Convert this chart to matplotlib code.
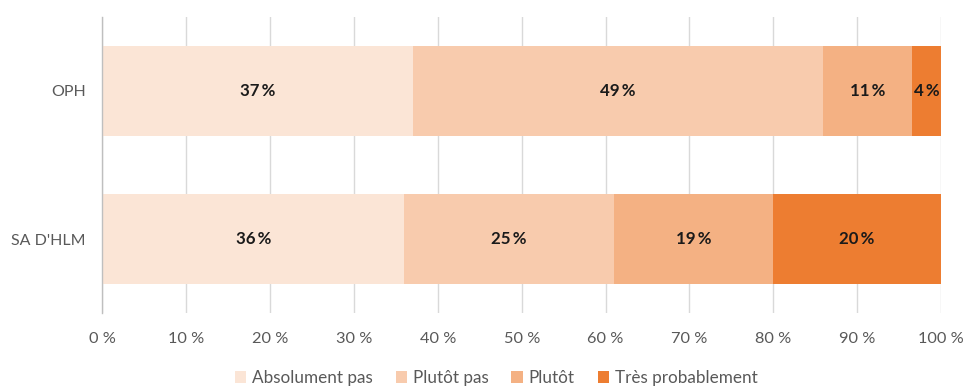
import matplotlib
matplotlib.use("Agg")
import matplotlib.pyplot as plt
import numpy as np

plt.rcParams['font.family'] = ['Lato', 'DejaVu Sans']

categories = ["SA D'HLM", "OPH"]
series_names = ["Absolument pas", "Plutôt pas", "Plutôt", "Très probablement"]
# shares per category (SA D'HLM, OPH), in percent
absolument_pas = [36.0, 37.0]
plutot_pas = [25.0, 48.9]
plutot = [19.0, 10.7]
tres_probablement = [20.0, 3.5]
series_values = [absolument_pas, plutot_pas, plutot, tres_probablement]
colors = ["#FBE5D6", "#F8CBAD", "#F4B183", "#ED7D31"]
x_ticks = [0, 10, 20, 30, 40, 50, 60, 70, 80, 90, 100]

fig = plt.figure(figsize=(9.65, 3.87), dpi=100)
ax = fig.add_axes([0.1062, 0.1912, 0.8689, 0.7649])

y = np.arange(len(categories))
left = np.zeros(len(categories))
for name, vals, col in zip(series_names, series_values, colors):
    vals = np.array(vals)
    ax.barh(y, vals, left=left, height=0.61, color=col, label=name, zorder=2)
    for yi, (l, v) in enumerate(zip(left, vals)):
        ax.text(l + v / 2, yi, f"{v:.0f}\u2009%", ha='center', va='center',
                fontsize=12.2, color='#1A1A1A', fontweight='bold', zorder=3)
    left = left + vals

ax.set_xlim(0, 100)
ax.set_ylim(-0.5, 1.5)
ax.set_xticks(x_ticks)
ax.set_xticklabels([f"{t} %" for t in x_ticks])
ax.set_yticks(y)
ax.set_yticklabels(categories)
ax.tick_params(axis='x', length=0, pad=14, labelsize=11.8, labelcolor='#595959')
ax.tick_params(axis='y', length=0, pad=12, labelsize=11.5, labelcolor='#595959')
ax.grid(axis='x', color='#D9D9D9', linewidth=1, zorder=0)
for s in ['top', 'right', 'bottom']:
    ax.spines[s].set_visible(False)
ax.spines['left'].set_color('#BFBFBF')
ax.spines['left'].set_linewidth(1)

leg = fig.legend(loc='center', bbox_to_anchor=(0.514, 0.023), ncol=4, frameon=False,
                 fontsize=12.3, handlelength=0.65, handleheight=0.65, handletextpad=0.35,
                 columnspacing=1.35, labelcolor='#595959')

fig.savefig("out.png", dpi=100)
